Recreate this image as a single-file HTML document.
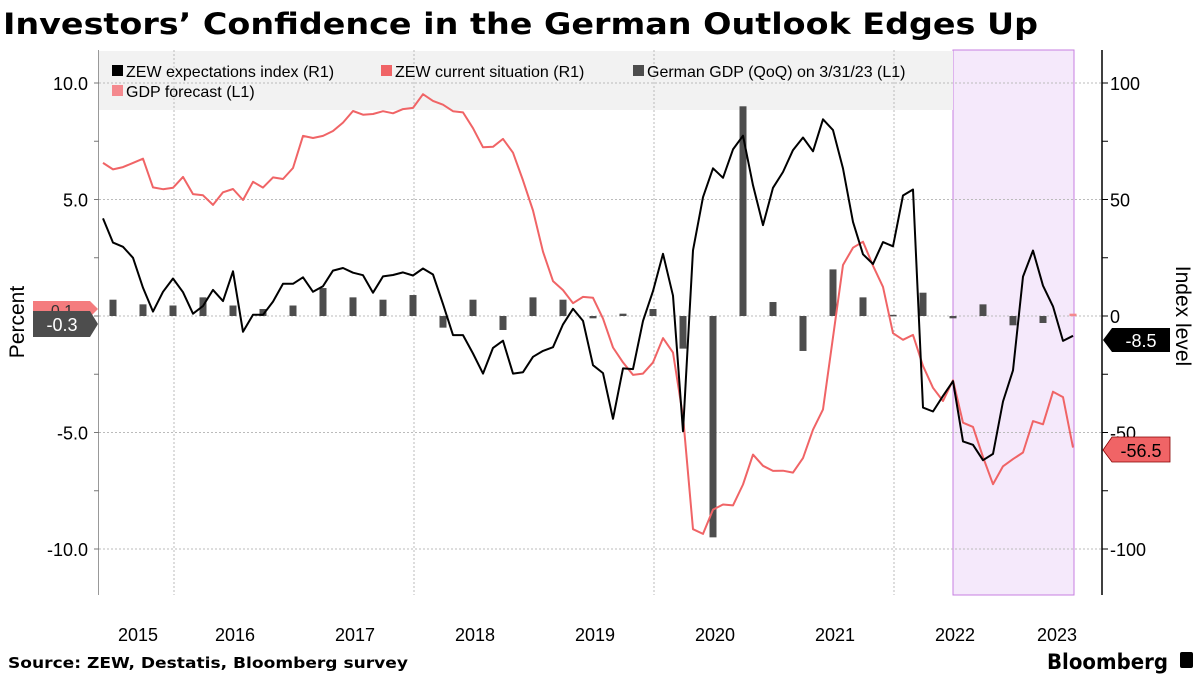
<!DOCTYPE html>
<html><head><meta charset="utf-8">
<style>
body{margin:0;background:#fff;width:1200px;height:675px;overflow:hidden;font-family:"Liberation Sans",sans-serif;}
svg{display:block}
</style></head>
<body>
<svg id="c" width="1200" height="675" xmlns="http://www.w3.org/2000/svg">
<text x="3" y="34" font-size="29" font-weight="bold" font-family="DejaVu Sans, sans-serif" fill="#000" textLength="1035" lengthAdjust="spacingAndGlyphs">Investors’ Confidence in the German Outlook Edges Up</text>
<rect x="953" y="50" width="121" height="545" fill="#f5e9fb" stroke="#c77fe0" stroke-width="1"/>
<rect x="99" y="51" width="854" height="59" fill="#f2f2f2"/>
<g id="grid"></g>
<g id="bars"></g>
<g id="lines"></g>
<line x1="98.5" y1="50" x2="98.5" y2="595" stroke="#999"/>
<line x1="1102" y1="50" x2="1102" y2="595" stroke="#000" stroke-width="1.5"/>
<g id="ticks" font-size="18" fill="#000"></g>
<text transform="translate(24,322) rotate(-90)" text-anchor="middle" font-size="21">Percent</text>
<text transform="translate(1176,316) rotate(90)" text-anchor="middle" font-size="21">Index level</text>
<g font-size="16" fill="#000">
<rect x="112" y="65" width="11" height="11" fill="#000"/>
<text x="126" y="77">ZEW expectations index (R1)</text>
<rect x="381" y="65" width="11" height="11" fill="#f06466"/>
<text x="395" y="77">ZEW current situation (R1)</text>
<rect x="633" y="65" width="11" height="11" fill="#4d4d4d"/>
<text x="647" y="77">German GDP (QoQ) on 3/31/23 (L1)</text>
<rect x="112" y="85" width="11" height="11" fill="#f4898e"/>
<text x="126" y="97">GDP forecast  (L1)</text>
</g>
<g>
<path d="M33,301 H90 L98,309 L90,317 H33Z" fill="#f47c7e"/>
<text x="62" y="316" font-size="16" fill="#333" text-anchor="middle">0.1</text>
<path d="M33,311 H90 L98,324 L90,337 H33Z" fill="#4d4d4d"/>
<text x="62" y="331" font-size="18" fill="#fff" text-anchor="middle">-0.3</text>
</g>
<g>
<path d="M1103,340 L1112,328 H1170 V352 H1112Z" fill="#000"/>
<text x="1141" y="347" font-size="18" fill="#fff" text-anchor="middle">-8.5</text>
<path d="M1103,450 L1112,437 H1170 V462 H1112Z" fill="#f06466" stroke="#800" stroke-width="0.8"/>
<text x="1141" y="457" font-size="18" fill="#000" text-anchor="middle">-56.5</text>
</g>
<text x="8" y="668" font-size="15.5" font-weight="bold" font-family="DejaVu Sans, sans-serif" textLength="400" lengthAdjust="spacingAndGlyphs">Source: ZEW, Destatis, Bloomberg survey</text>
<text x="1047" y="669" font-size="21" font-weight="bold" font-family="DejaVu Sans, sans-serif" textLength="121" lengthAdjust="spacingAndGlyphs">Bloomberg</text>
<rect x="1180" y="652" width="13" height="16" rx="2" fill="#000"/>
</svg>
<script>
const expectations=[41.9,31.5,29.7,25.0,12.1,1.9,10.4,16.1,
10.2,1.0,4.3,11.2,6.4,19.2,-6.8,0.5,0.5,6.2,13.8,13.8,
16.6,10.4,12.8,19.5,20.6,18.6,17.5,10.0,17.0,17.6,18.7,17.4,
20.4,17.8,5.1,-8.2,-8.2,-16.1,-24.7,-13.7,-10.6,-24.7,-24.1,-17.5,
-15.0,-13.4,-3.6,3.1,-2.1,-21.1,-24.5,-44.1,-22.5,-22.8,-2.1,10.7,
26.7,8.7,-49.5,28.2,51.0,63.4,59.3,71.5,77.4,56.1,39.0,55.0,
61.8,71.2,76.6,70.7,84.4,79.8,63.3,40.4,26.5,22.3,31.7,29.9,
51.7,54.3,-39.3,-41.0,-34.3,-28.0,-53.8,-55.3,-61.9,-59.2,-36.7,-23.3,
16.9,28.1,13.0,4.1,-10.7,-8.5];
const current=[65.7,62.9,63.9,65.7,67.5,55.2,54.4,55.0,
59.7,52.3,51.8,47.7,53.1,54.5,49.8,57.6,55.1,59.5,58.8,63.5,
77.3,76.4,77.3,79.4,83.0,88.0,86.4,86.7,87.9,87.0,88.8,89.3,
95.2,92.3,90.7,87.9,87.4,80.6,72.4,72.6,76.0,70.1,58.2,45.3,
27.6,15.0,11.1,5.5,8.2,7.8,-1.1,-13.5,-19.9,-25.3,-24.7,-19.9,
-9.5,-15.7,-43.1,-91.5,-93.5,-83.1,-80.9,-81.3,-72.3,-59.5,-64.3,-66.5,
-66.4,-67.2,-61.0,-48.8,-40.1,-9.1,21.9,29.3,31.9,21.6,12.5,-7.4,
-10.2,-8.1,-21.4,-30.8,-36.5,-27.6,-45.8,-47.6,-60.5,-72.2,-64.5,-61.4,
-58.6,-45.1,-46.5,-32.5,-34.8,-56.5];
const gdp=[0.7,0.5,0.45,0.8,0.45,0.3,0.45,1.2,0.8,0.7,0.9,-0.5,0.7,-0.6,0.8,0.7,-0.1,
0.1,0.3,-1.4,-9.5,9.0,0.6,-1.5,2.0,0.8,0.05,1.0,-0.1,0.5,-0.4,-0.3];
const forecast=[0.1];
const leftTicks=["10.0","5.0","-5.0","-10.0"];
const leftTickVals=[10,5,-5,-10];
const rightTicks=["100","50","0","-50","-100"];
const rightTickVals=[100,50,0,-50,-100];
const yearLabels=["2015","2016","2017","2018","2019","2020","2021","2022","2023"];

const NS="http://www.w3.org/2000/svg";
const X0=103,DX=10;
const xM=i=>X0+i*DX;
const yL=v=>316-v*23.3;
const yR=v=>316-v*2.33;
function mk(t,a,p){const e=document.createElementNS(NS,t);for(const k in a)e.setAttribute(k,a[k]);p.appendChild(e);return e;}
const grid=document.getElementById('grid'),bars=document.getElementById('bars'),lines=document.getElementById('lines'),ticks=document.getElementById('ticks');
[10,5,0,-5,-10].forEach(v=>{const l=mk('line',{x1:99,x2:1102,y1:yL(v),y2:yL(v),stroke:'#bbb','stroke-dasharray':'2,2'},grid);

});
[8,32,56,80].forEach(i=>{const x=xM(i)-9;const l=mk('line',{x1:x,x2:x,y1:50,y2:595,stroke:'#bbb','stroke-dasharray':'2,2'},grid);

});
leftTicks.forEach((t,k)=>{const tx=mk('text',{x:88,y:yL(leftTickVals[k])+7,'text-anchor':'end'},ticks);tx.textContent=t;

});
[7.5,2.5,-2.5,-7.5,10,5,0,-5,-10].forEach(v=>{mk('line',{x1:94,x2:99,y1:yL(v),y2:yL(v),stroke:'#777'},ticks);});
rightTicks.forEach((t,k)=>{const tx=mk('text',{x:1110,y:yR(rightTickVals[k])+7},ticks);tx.textContent=t;

});
[75,25,-25,-75,100,50,0,-50,-100].forEach(v=>{mk('line',{x1:1102,x2:1108,y1:yR(v),y2:yR(v),stroke:'#000'},ticks);});
yearLabels.forEach((y,k)=>{let x=xM(8+12*(k-1))+52;if(k===0)x=138;if(k===8)x=1057;
const tx=mk('text',{x:x,y:641,'text-anchor':'middle','font-size':18},ticks);tx.textContent=y;

});
gdp.forEach((v,q)=>{const x=xM(1+3*q);const y1=yL(Math.max(v,0)),y2=yL(Math.min(v,0));
const r=mk('rect',{x:x-3.5,y:y1,width:7,height:Math.max(1.5,y2-y1),fill:'#4d4d4d'},bars);

});
forecast.forEach((v,k)=>{const x=xM(1+3*(gdp.length+k));const r=mk('rect',{x:x-3.5,y:yL(v),width:7,height:Math.max(2.5,yL(0)-yL(v)),fill:'#f4898e'},bars);

});
function line(arr,col,name){const d=arr.map((v,i)=>(i?'L':'M')+xM(i)+','+yR(v).toFixed(1)).join('');
const p=mk('path',{d:d,fill:'none',stroke:col,'stroke-width':2,'stroke-linejoin':'round'},lines);

}
line(current,'#f06466','current-situation-line');
line(expectations,'#000','expectations-line');
</script>
</body></html>
